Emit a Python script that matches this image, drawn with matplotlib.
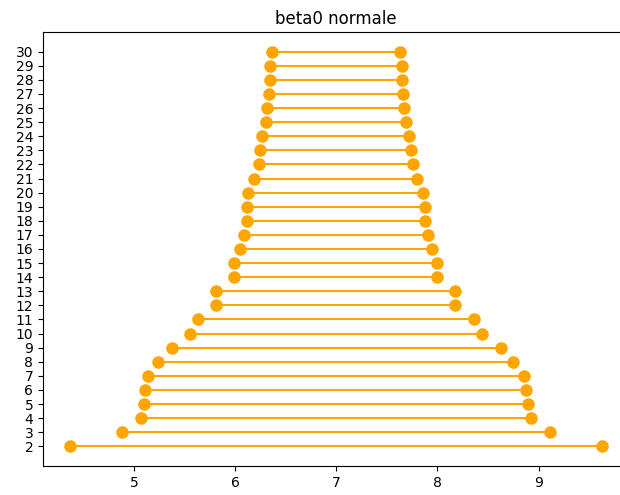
import matplotlib
matplotlib.use("Agg")
import matplotlib.pyplot as plt

sizes = list(range(2, 31))
lower = [4.363, 4.878, 5.066, 5.10, 5.11, 5.14, 5.24, 5.373, 5.558, 5.63,
         5.815, 5.815, 5.99, 5.99, 6.047, 6.086, 6.119, 6.119, 6.129, 6.19,
         6.235, 6.248, 6.27, 6.307, 6.317, 6.33, 6.34, 6.344, 6.366]
upper = [9.631, 9.113, 8.928, 8.895, 8.88, 8.858, 8.75, 8.624, 8.436, 8.363,
         8.175, 8.175, 8.0, 8.0, 7.944, 7.908, 7.875, 7.875, 7.861, 7.80,
         7.756, 7.743, 7.72, 7.687, 7.673, 7.66, 7.65, 7.65, 7.627]

fig = plt.figure(figsize=(6.2, 4.95), dpi=100)
ax = fig.add_axes([43/620, 29/495, 586/620, 434/495])
ax.hlines(sizes, lower, upper, color='orange', linewidth=1.5)
ax.plot(lower, sizes, 'o', color='orange', markersize=8)
ax.plot(upper, sizes, 'o', color='orange', markersize=8)
ax.set_yticks(sizes)
ax.set_yticklabels([str(s) for s in sizes])
ax.set_title('beta0 normale')
fig.savefig('out.png', dpi=100)
